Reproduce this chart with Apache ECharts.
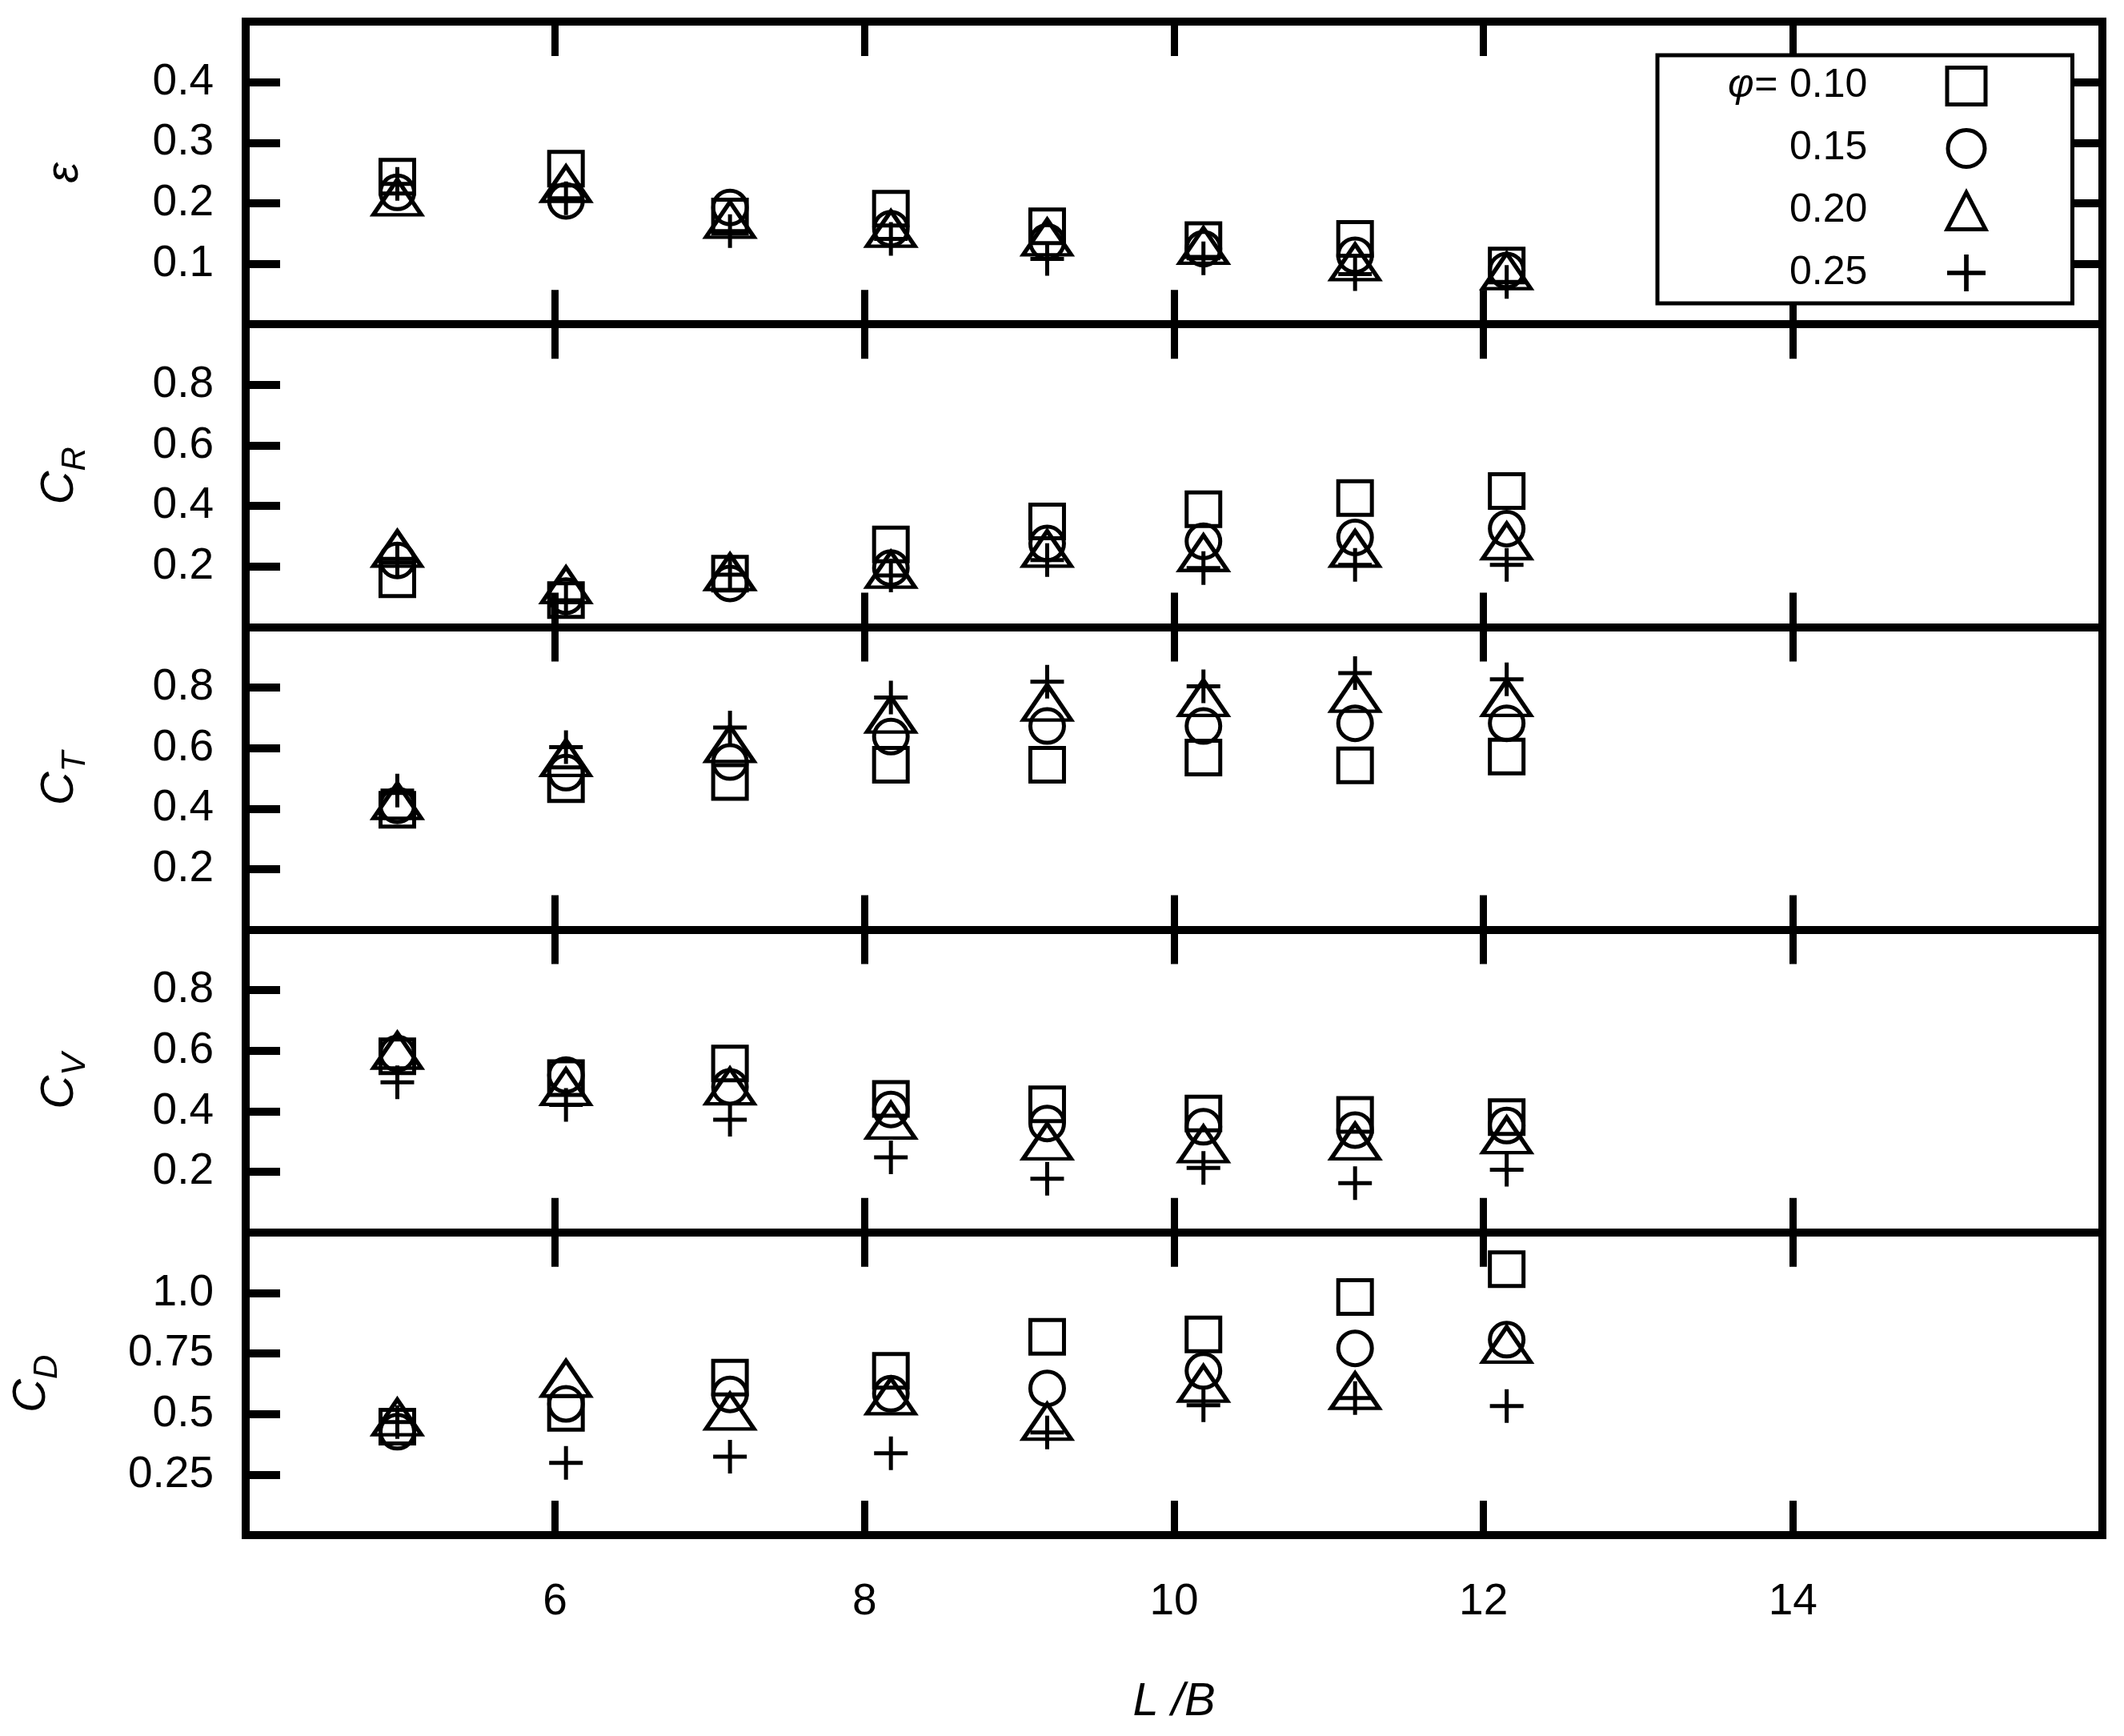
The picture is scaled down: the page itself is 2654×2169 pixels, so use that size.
<!DOCTYPE html>
<html>
<head>
<meta charset="utf-8">
<title>L/B coefficients</title>
<script src="https://cdn.jsdelivr.net/npm/echarts@6/dist/echarts.min.js"></script>
<style>
    * { margin: 0; padding: 0; }
    #chart { width: 2654px; height: 2169px; background: #fff; }
</style>
</head>
<body>
<div id="chart"></div>
<script>
    // L/B of the eight hulls
    var lb = [4.98, 6.07, 7.13, 8.17, 9.18, 10.19, 11.17, 12.15];
    // phi values (legend)
    var phiNames = ['0.10', '0.15', '0.20', '0.25'];
    var xTicks = ['6', '8', '10', '12', '14'];

    // each row: phi = 0.10, 0.15, 0.20, 0.25
    var epsilon = [
        [0.244, 0.257, 0.178, 0.191, 0.162, 0.139, 0.141, 0.097],
        [0.218, 0.204, 0.193, 0.158, 0.136, 0.125, 0.114, 0.089],
        [0.210, 0.232, 0.173, 0.158, 0.144, 0.130, 0.103, 0.088],
        [0.232, 0.208, 0.154, 0.141, 0.108, 0.109, 0.083, 0.070]
    ];
    var cR = [
        [0.158, 0.089, 0.176, 0.273, 0.349, 0.389, 0.426, 0.449],
        [0.220, 0.102, 0.144, 0.195, 0.276, 0.283, 0.296, 0.325],
        [0.259, 0.139, 0.182, 0.190, 0.259, 0.245, 0.259, 0.284],
        [0.225, 0.088, 0.173, 0.170, 0.221, 0.195, 0.205, 0.205]
    ];
    var cT = [
        [0.396, 0.481, 0.488, 0.545, 0.545, 0.569, 0.543, 0.572],
        [0.411, 0.519, 0.554, 0.638, 0.673, 0.673, 0.682, 0.682],
        [0.426, 0.568, 0.614, 0.711, 0.751, 0.766, 0.780, 0.766],
        [0.460, 0.603, 0.668, 0.767, 0.819, 0.804, 0.848, 0.827]
    ];
    var cV = [
        [0.582, 0.510, 0.558, 0.441, 0.423, 0.393, 0.388, 0.381],
        [0.591, 0.520, 0.481, 0.406, 0.360, 0.349, 0.338, 0.353],
        [0.601, 0.481, 0.483, 0.370, 0.301, 0.292, 0.301, 0.322],
        [0.496, 0.421, 0.372, 0.248, 0.177, 0.213, 0.163, 0.207]
    ];
    var cD = [
        [0.448, 0.505, 0.650, 0.678, 0.819, 0.829, 0.983, 1.098],
        [0.427, 0.542, 0.581, 0.584, 0.606, 0.678, 0.771, 0.807],
        [0.487, 0.647, 0.511, 0.574, 0.469, 0.626, 0.596, 0.787],
        [0.467, 0.298, 0.324, 0.338, 0.424, 0.536, 0.566, 0.533]
    ];

    var panels = [epsilon, cR, cT, cV, cD];
    var yNames = ['{i|ε}', '{i|C}{s|R}', '{i|C}{s|T}', '{i|C}{s|V}', '{i|C}{s|D}'];
    var yMax = [0.5, 1, 1, 1, 1.25];
    var yStep = [0.1, 0.2, 0.2, 0.2, 0.25];
    var yNameGap = [186, 192, 192, 192, 227];

    var font = 'Liberation Sans, Arial, sans-serif';
    var plus = 'path://M18.5,0 L23.5,0 L23.5,18.5 L42,18.5 L42,23.5 L23.5,23.5 L23.5,42 L18.5,42 L18.5,23.5 L0,23.5 L0,18.5 L18.5,18.5 Z';
    var symbols = ['rect', 'circle', 'triangle', plus];
    var symbolSizes = [[42, 42], [42, 42], [60, 44], [42, 42]];

    var frame = { show: true, onZero: false, lineStyle: { color: '#000', width: 10, cap: 'square' } };
    var panelTop = 27, panelH = 378.2;
    var grids = [], xAxes = [], yAxes = [], series = [];

    panels.forEach(function (rows, k) {
        grids.push({ left: 307, right: 27, top: panelTop + k * panelH, height: panelH });

        // bottom + top x axes, ticks on both edges
        ['bottom', 'top'].forEach(function (pos) {
            var lbl = (pos === 'bottom' && k === 4);
            xAxes.push({
                type: 'value', gridIndex: k, position: pos,
                min: 4, max: 16, interval: 2,
                name: lbl ? 'L /B' : '',
                nameLocation: 'middle', nameGap: 179,
                nameTextStyle: { fontFamily: font, fontSize: 58, fontStyle: 'italic', color: '#000', lineHeight: 60 },
                axisLine: frame,
                splitLine: { show: false },
                axisTick: { show: true, inside: true, length: 43, lineStyle: { color: '#000', width: 9 } },
                axisLabel: {
                    show: lbl, margin: 56, color: '#000', fontFamily: font, fontSize: 55,
                    showMinLabel: false, showMaxLabel: false,
                    formatter: function (v) { return xTicks.indexOf(String(v)) >= 0 ? String(v) : ''; }
                }
            });
        });

        // left (labelled) + right (ticks only on the top panel) y axes
        ['left', 'right'].forEach(function (pos) {
            var lbl = pos === 'left';
            yAxes.push({
                type: 'value', gridIndex: k, position: pos,
                min: 0, max: yMax[k], interval: yStep[k],
                name: lbl ? yNames[k] : '',
                nameLocation: 'middle', nameRotate: 90, nameGap: yNameGap[k],
                nameTextStyle: {
                    color: '#000', fontFamily: font,
                    rich: {
                        i: { fontFamily: font, fontSize: 58, fontStyle: 'italic', lineHeight: 80, color: '#000' },
                        s: { fontFamily: font, fontSize: 42, fontStyle: 'italic', lineHeight: 42, verticalAlign: 'bottom', color: '#000' }
                    }
                },
                axisLine: frame,
                splitLine: { show: false },
                axisTick: { show: lbl || k === 0, inside: true, length: 43, lineStyle: { color: '#000', width: 10 } },
                axisLabel: {
                    show: lbl, margin: 40, color: '#000', fontFamily: font, fontSize: 55,
                    showMinLabel: false, showMaxLabel: false,
                    formatter: function (v) { return (k === 4 && v === 1) ? '1.0' : String(+v.toFixed(2)); }
                }
            });
        });

        rows.forEach(function (vals, p) {
            series.push({
                type: 'scatter',
                name: phiNames[p],
                xAxisIndex: k * 2,
                yAxisIndex: k * 2,
                symbol: symbols[p],
                symbolSize: symbolSizes[p],
                silent: true,
                emphasis: { disabled: true },
                itemStyle: p === 3
                    ? { color: '#000', borderWidth: 0, opacity: 1 }
                    : { color: 'rgba(0,0,0,0)', borderColor: '#000', borderWidth: 5, opacity: 1 },
                data: lb.map(function (x, i) { return [x, vals[i]]; })
            });
        });
    });

    var legendData = phiNames.map(function (n, i) {
        return i === 3
            ? { name: n, itemStyle: { color: '#000', borderWidth: 0 } }
            : { name: n, itemStyle: { color: 'rgba(0,0,0,0)', borderColor: '#000', borderWidth: 5 } };
    });

    var option = {
        backgroundColor: '#fff',
        animation: false,
        grid: grids,
        xAxis: xAxes,
        yAxis: yAxes,
        legend: {
            orient: 'vertical',
            align: 'right',
            left: 2071, top: 69,
            padding: [13, 106, 13, 88],
            itemGap: 27,
            itemWidth: 48, itemHeight: 46,
            symbolKeepAspect: false,
            selectedMode: false,
            backgroundColor: '#fff',
            borderColor: '#000', borderWidth: 5,
            data: legendData,
            formatter: function (name) {
                return (name === '0.10' ? '{p|φ=}' : '{p| }') + '{v|' + name + '}';
            },
            textStyle: {
                color: '#000', fontFamily: font, fontSize: 50,
                rich: {
                    p: { width: 77, align: 'left', fontFamily: font, fontSize: 50, fontStyle: 'italic', lineHeight: 46, color: '#000' },
                    v: { width: 192, align: 'left', fontFamily: font, fontSize: 50, lineHeight: 46, color: '#000' }
                }
            }
        },
        series: series
    };

    var myChart = echarts.init(document.getElementById('chart'));
    myChart.setOption(option);
</script>
</body>
</html>
